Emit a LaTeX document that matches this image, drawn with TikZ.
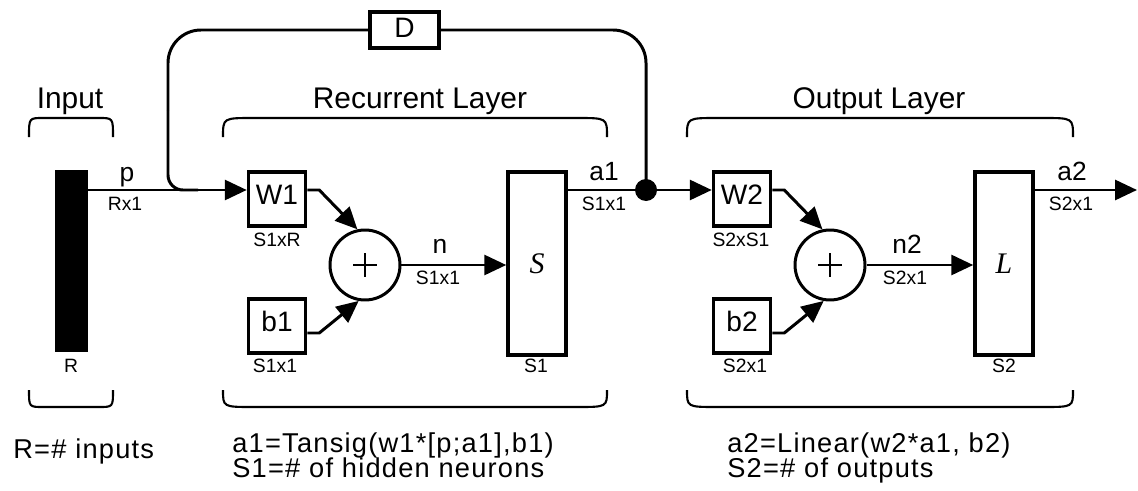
\documentclass[tikz,border=0pt]{standalone}
\usepackage{fontspec}
\setmainfont{Liberation Sans}
\newfontfamily\tfserif{Liberation Serif}
\usepackage{tikz}
\usetikzlibrary{arrows.meta}

\tikzset{
  sig/.style={line width=1.7pt},
  brc/.style={line width=1.2pt},
  wbox/.style={draw, line width=2pt, inner sep=0pt, minimum width=1.14cm,
    minimum height=1.08cm, text depth=5pt, font=\fontsize{16}{16}\selectfont},
  tbox/.style={draw, line width=2pt, inner sep=0pt, minimum width=1.16cm,
    minimum height=3.66cm, font=\fontsize{17}{17}\selectfont\tfserif\itshape},
  sumnode/.style={draw, circle, line width=1.7pt, inner sep=0pt, minimum size=1.40cm},
  jdot/.style={fill, circle, inner sep=0pt, minimum size=0.44cm},
  dimlbl/.style={inner sep=0pt, font=\fontsize{11}{11}\selectfont},
  siglbl/.style={inner sep=0pt, font=\fontsize{15}{15}\selectfont},
  ttl/.style={inner sep=0pt, font=\fontsize{17}{17}\selectfont},
  note/.style={inner sep=0pt, align=left,
    font={\fontsize{15.5}{14.2}\selectfont\addfontfeature{LetterSpace=4.5}\setlength{\lineskiplimit}{-20pt}}},
}

\begin{document}
\begin{tikzpicture}[x=0.02cm,y=-0.02cm,>={Triangle[length=0.44cm,width=0.40cm]}]
  % one unit = one pixel of the 1138x490 sheet, y running downwards
  \useasboundingbox (0,0) rectangle (1138,490);
  \coordinate (sig) at (0,190);      % level of the p / a1 / a2 signal lines
  \coordinate (fbk) at (168,190);    % where the delayed a1 joins p
  \coordinate (fbm) at (168,110);
  \coordinate (aout) at (1137,190);

  % input vector
  \node[fill=black, inner sep=0pt, minimum width=0.66cm, minimum height=3.64cm] (inbar) at (71.5,261) {};

  % recurrent layer
  \node[wbox] (W1) at (277,199) {W1};
  \node[wbox] (b1) at (277,326) {b1};
  \node[sumnode] (sum1) at (365,265) {};
  \node[tbox] (Sbox) at (537,263.5) {S};
  \node[jdot] (jn) at (646,190) {};

  % output layer
  \node[wbox] (W2) at (742,199) {W2};
  \node[wbox] (b2) at (742,326) {b2};
  \node[sumnode] (sum2) at (830,265) {};
  \node[tbox] (Lbox) at (1004,263.5) {L};

  % delay in the feedback loop
  \node[wbox, minimum width=1.38cm, minimum height=0.72cm, text depth=2pt] (Dbox) at (404.5,30) {D};

  \foreach \s in {sum1,sum2}
    \draw[line width=1.1pt] (\s.center) +(-12,0) -- +(12,0) (\s.center) +(0,-12) -- +(0,12);

  % signal lines
  \draw[sig,->] (inbar.east |- sig) -- (W1.west |- sig);
  \draw[sig,->] (W1.east |- sig) -- ++(12,0) -- (sum1.102);
  \draw[sig,->] ([yshift=-0.14cm]b1.east) -- ++(12,0) -- (sum1.-100);
  \draw[sig,->] (sum1.east) -- (sum1.east -| Sbox.west);
  \draw[sig] (Sbox.east |- sig) -- (jn);
  \draw[sig,->] (jn) -- (W2.west |- sig);
  \draw[sig,->] (W2.east |- sig) -- ++(12,0) -- (sum2.102);
  \draw[sig,->] ([yshift=-0.14cm]b2.east) -- ++(12,0) -- (sum2.-100);
  \draw[sig,->] (sum2.east) -- (sum2.east -| Lbox.west);
  \draw[sig,->] (Lbox.east |- sig) -- (aout);

  % feedback a1 -> D -> input of W1
  \draw[sig, rounded corners=0.66cm] (jn.center) -- (jn.center |- Dbox) -- (Dbox.east);
  \draw[sig, rounded corners=0.66cm] (Dbox.west) -- (Dbox.west -| fbm) -- (fbm);
  \draw[sig, rounded corners=0.3cm] (fbm) -- (fbk) -- ++(30,0);

  % braces round input and layers
  \foreach \xa/\xb/\rr in {29/113/14, 223/607/30, 687/1073/30} {
    \draw[brc] (\xa,137) .. controls (\xa,118) .. (\xa+\rr,118) -- (\xb-\rr,118) .. controls (\xb,118) .. (\xb,137);
    \draw[brc] (\xa,390) .. controls (\xa,407) .. (\xa+\rr,407) -- (\xb-\rr,407) .. controls (\xb,407) .. (\xb,390);
  }

  % titles
  \node[ttl, anchor=base] (tin) at (70,108) {Input};
  \node[ttl, anchor=base] (trec) at (420,108) {Recurrent Layer};
  \node[ttl, anchor=base] (tout) at (879,108) {Output Layer};

  % signal names and sizes
  \node[siglbl, anchor=base] (lp) at (127,181) {p};
  \node[dimlbl, anchor=north] (dp) at (125,197) {Rx1};
  \node[siglbl, anchor=base] (ln) at (440,253) {n};
  \node[dimlbl, anchor=north] (dn) at (438,271) {S1x1};
  \node[siglbl, anchor=base] (la1) at (604,180) {a1};
  \node[dimlbl, anchor=north] (da1) at (604,197) {S1x1};
  \node[siglbl, anchor=base] (ln2) at (907,253) {n2};
  \node[dimlbl, anchor=north] (dn2) at (905,271) {S2x1};
  \node[siglbl, anchor=base] (la2) at (1072,180) {a2};
  \node[dimlbl, anchor=north] (da2) at (1071,197) {S2x1};

  \node[dimlbl, anchor=north] (dR) at (71,359) {R};
  \node[dimlbl, anchor=north] (dW1) at (277,233) {S1xR};
  \node[dimlbl, anchor=north] (db1) at (275,359) {S1x1};
  \node[dimlbl, anchor=north] (dS) at (536,359) {S1};
  \node[dimlbl, anchor=north] (dW2) at (741,233) {S2xS1};
  \node[dimlbl, anchor=north] (db2) at (745,359) {S2x1};
  \node[dimlbl, anchor=north] (dL) at (1004,359) {S2};

  % notes
  \node[note, anchor=base west] (nin) at (13,458) {R=\# inputs};
  \node[note, anchor=north west] (nrec) at (232,432) {a1=Tansig(w1*[p;a1],b1)\\S1=\# of hidden neurons};
  \node[note, anchor=north west] (nout) at (727,432) {a2=Linear(w2*a1, b2)\\S2=\# of outputs};
\end{tikzpicture}
\end{document}
